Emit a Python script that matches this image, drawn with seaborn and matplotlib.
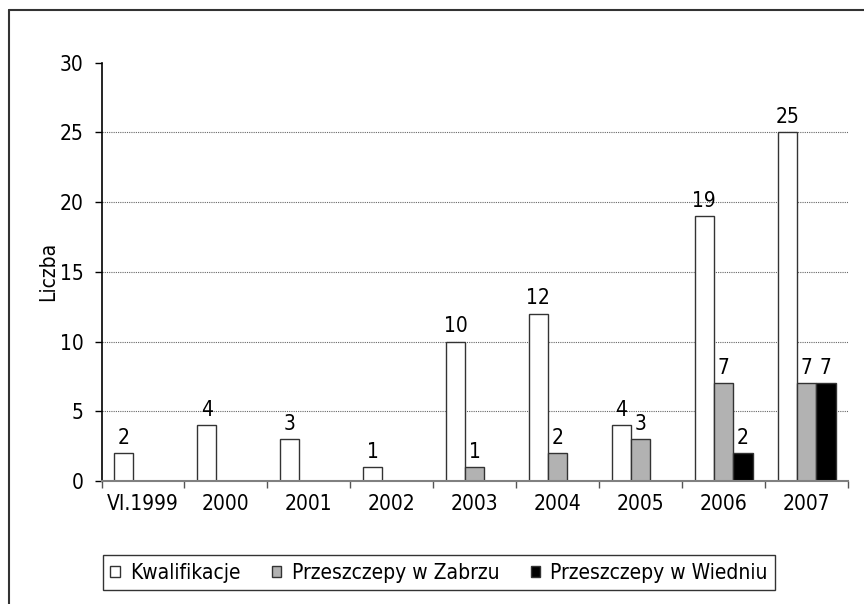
import numpy as np
import pandas as pd
import matplotlib
matplotlib.use('Agg')
import matplotlib.pyplot as plt
from matplotlib import font_manager
from matplotlib.patches import Patch
from matplotlib.lines import Line2D
import seaborn as sns

# data
years = ['VI.1999', '2000', '2001', '2002', '2003', '2004', '2005', '2006', '2007']
kwalifikacje = [2, 4, 3, 1, 10, 12, 4, 19, 25]
zabrze = [0, 0, 0, 0, 1, 2, 3, 7, 7]
wieden = [0, 0, 0, 0, 0, 0, 0, 2, 7]

series = ['Kwalifikacje', 'Przeszczepy w Zabrzu', 'Przeszczepy w Wiedniu']
colors = ['#ffffff', '#b2b2b2', '#000000']

rows = []
for name, vals in zip(series, [kwalifikacje, zabrze, wieden]):
    for y, v in zip(years, vals):
        if v > 0:
            rows.append({'rok': y, 'seria': name, 'liczba': v})
df = pd.DataFrame(rows)

sns.set_style('ticks')

# look for a narrow face, the original uses a condensed font
fonts = font_manager.fontManager.ttflist
names = {f.name for f in fonts}
stretch = 'normal'
if 'Liberation Sans Narrow' in names:
    family, fs = 'Liberation Sans Narrow', 16
elif any(f.name == 'DejaVu Sans' and f.stretch == 'condensed' for f in fonts):
    family, fs, stretch = 'DejaVu Sans', 15, 'condensed'
else:
    family, fs = 'Roboto', 15

plt.rcParams['font.family'] = [family, 'DejaVu Sans']
plt.rcParams['font.stretch'] = stretch
plt.rcParams['font.size'] = fs
for k in ['text.color', 'axes.labelcolor', 'xtick.color', 'ytick.color']:
    plt.rcParams[k] = 'black'

fig = plt.figure(figsize=(8.64, 6.04), dpi=100)
ax = fig.add_axes([0.1175, 0.2036, 0.864, 0.6926])

sns.barplot(data=df, x='rok', y='liczba', hue='seria', order=years,
            hue_order=series, palette=colors, width=0.7,
            edgecolor='#333333', linewidth=1, errorbar=None, ax=ax,
            legend=False)

for cont in ax.containers:
    ax.bar_label(cont, padding=4, fontsize=fs)

ax.set_ylim(0, 30)
ax.set_xlim(-0.5, len(years) - 0.5)
ax.set_yticks(range(0, 31, 5))
ax.set_xlabel('')
ax.set_ylabel('Liczba', fontsize=fs, labelpad=1)

# grid
ax.yaxis.grid(True, linestyle=(0, (1, 1)), color='#666666', linewidth=0.8)
ax.set_axisbelow(True)
gl = ax.yaxis.get_gridlines()
gl[0].set_visible(False)
gl[-1].set_visible(False)

# ticks
ax.tick_params(axis='y', length=5, width=1, pad=8, labelsize=fs)
ax.tick_params(axis='x', which='major', length=0, pad=9, labelsize=fs)
ax.set_xticks(np.arange(-0.5, len(years), 1), minor=True)
ax.tick_params(axis='x', which='minor', length=5, width=1, color='#555555')

for s in ['top', 'right']:
    ax.spines[s].set_visible(False)
ax.spines['left'].set_color('black')
ax.spines['left'].set_linewidth(1.2)
ax.spines['bottom'].set_color('#808080')
ax.spines['bottom'].set_linewidth(1.5)

# legend
handles = [Patch(facecolor=c, edgecolor='#333333', linewidth=1) for c in colors]
leg = fig.legend(handles, series, loc='lower left',
                 bbox_to_anchor=(103 / 864, (604 - 590) / 604),
                 ncol=3, frameon=True, fancybox=False,
                 edgecolor='black', fontsize=fs, handlelength=0.45, handleheight=0.45,
                 handletextpad=0.5, columnspacing=1.5, borderaxespad=0, borderpad=0.35)
leg.get_frame().set_linewidth(1)

# outer frame (top and left edges)
fig.add_artist(Line2D([9 / 864, 1], [1 - 10 / 604, 1 - 10 / 604], color='#333333', linewidth=1.5))
fig.add_artist(Line2D([9 / 864, 9 / 864], [0, 1 - 10 / 604], color='#333333', linewidth=1.5))

fig.savefig('out.png', dpi=100)
